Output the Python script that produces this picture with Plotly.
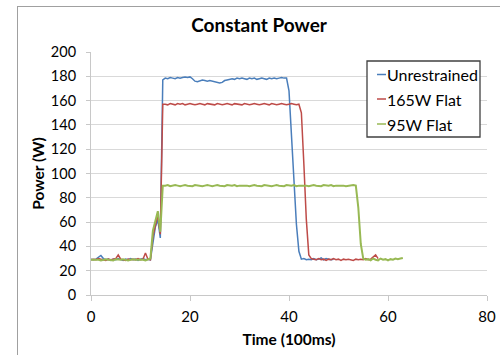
import plotly.graph_objects as go

# ---------------- data (time step 0.5 units of 100ms) ----------------
series_names = ["Unrestrained", "165W Flat", "95W Flat"]
step = 0.5

unrestrained = [
    29.5, 29, 29.5, 31, 32.5, 30, 29, 29.5, 28.5, 29.5,
    29, 30, 29, 28.5, 29.5, 29, 30, 29, 29.5, 28.5,
    29.5, 30, 29, 29.5, 29, 44, 56, 62, 47, 177,
    178.5, 178, 179, 178.5, 178, 179, 178.5, 179, 179.5, 179,
    179.5, 178, 176, 175.5, 176.5, 177, 176.5, 176, 176.5, 176,
    175.5, 175, 174.5, 175, 176.5, 177, 177.5, 178, 177.5, 178.5,
    178, 178.5, 178, 177.5, 178.5, 178, 178.5, 177.5, 178, 178.5,
    178, 177.5, 178.5, 178, 178.5, 178, 178.5, 179, 178.5, 178.5,
    168, 128, 90, 58, 36, 29.5, 30, 29, 29.5, 29,
    30, 29, 29.5, 30.5, 29, 30, 29.5, 29, 29.5,
]

flat_165 = [
    29, 29.5, 29, 30, 29.5, 29, 28.5, 29.5, 29, 29.5,
    30, 33, 29.5, 29, 28.5, 29.5, 29, 29.5, 29, 30,
    29, 29.5, 34.5, 29.5, 29, 48, 58, 66, 50, 157,
    157, 156.5, 157.5, 157, 156.5, 157.5, 157, 157.5, 156.5, 157,
    157.5, 157, 156.5, 157, 157.5, 157, 156.5, 157.5, 157, 157,
    156.5, 157.5, 157, 156.5, 157, 157.5, 157, 156.5, 157.5, 157,
    157, 156.5, 157.5, 157, 156.5, 157, 157.5, 157, 156.5, 157,
    157.5, 157, 156.5, 157.5, 157, 156.5, 157, 157.5, 157, 156.5,
    157, 157.5, 157, 156.5, 157,
    150, 108, 62, 33, 30, 29.5, 29, 30, 29, 29.5,
    28.5, 29.5, 29, 30, 29, 29.5, 28.5, 29.5, 29, 29.5,
    29, 28.5, 29.5, 29, 29.5, 29, 30, 29, 29.5, 31,
    33, 30,
]

flat_95 = [
    29, 29, 29.5, 29, 28.5, 29, 29.5, 29, 29, 28.5,
    29.5, 29, 29, 29.5, 29, 28.5, 29, 29.5, 29, 29,
    29.5, 29, 28.5, 29, 30, 53, 60, 69, 52, 90,
    90, 90.5, 89.5, 90, 90.5, 90, 89.5, 90, 90.5, 90,
    90, 89.5, 90.5, 90, 90, 89.5, 90, 90.5, 90, 89.5,
    90, 90.5, 90, 90, 89.5, 90.5, 90, 90, 90.5, 89.5,
    90, 90, 90.5, 90, 89.5, 90, 90.5, 90, 90, 89.5,
    90.5, 90, 90, 89.5, 90, 90.5, 90, 90, 89.5, 90.5,
    90, 90, 90.5, 89.5, 90, 90, 90.5, 90, 89.5, 90,
    90.5, 90, 90, 89.5, 90.5, 90, 90, 90.5, 89.5, 90,
    90, 90.5, 90, 89.5, 90, 90, 90.5, 90,
    72, 42, 30,
    29, 29.5, 28.5, 30, 29, 28.5, 30, 29, 29.5, 28.5,
    29.5, 29, 30, 29.5, 30, 30.5,
]

series_values = [unrestrained, flat_165, flat_95]
colors = ["#4A7EBB", "#BE4B48", "#98B954"]
widths = [1.5, 1.5, 2]

x_ticks = [0, 20, 40, 60, 80]
y_ticks = [0, 20, 40, 60, 80, 100, 120, 140, 160, 180, 200]

FONT = "Lato, Carlito, Calibri, 'Open Sans', sans-serif"

# ---------------- figure ----------------
fig = go.Figure()
for name, vals, col, w in zip(series_names, series_values, colors, widths):
    t = [i * step for i in range(len(vals))]
    fig.add_trace(go.Scatter(x=t, y=vals, mode="lines", name=name,
                             line=dict(color=col, width=w), showlegend=False))

L, R, T, B = 91, 13, 52, 60
W, H = 500, 355
pw, ph = W - L - R, H - T - B


def px_x(p):
    return (p - L) / pw


def px_y(p):
    return (H - B - p) / ph


shapes = []
# outer chart frame (top and left visible)
shapes.append(dict(type="line", xref="paper", yref="paper",
                   x0=px_x(17), x1=px_x(520), y0=px_y(6.5), y1=px_y(6.5),
                   line=dict(color="#a0a0a0", width=1)))
shapes.append(dict(type="line", xref="paper", yref="paper",
                   x0=px_x(17.5), x1=px_x(17.5), y0=px_y(6), y1=px_y(380),
                   line=dict(color="#a0a0a0", width=1)))
# legend box
shapes.append(dict(type="rect", xref="paper", yref="paper",
                   x0=px_x(367), x1=px_x(480), y0=px_y(61), y1=px_y(137),
                   line=dict(color="#404040", width=1.3), fillcolor="white"))
annotations = []
leg_rows = [74.5, 99, 124]
for name, col, yy in zip(series_names, colors, leg_rows):
    shapes.append(dict(type="line", xref="paper", yref="paper",
                       x0=px_x(377), x1=px_x(386), y0=px_y(yy), y1=px_y(yy),
                       line=dict(color=col, width=1.5)))
    annotations.append(dict(xref="paper", yref="paper", x=px_x(385), y=px_y(yy),
                            text=name, showarrow=False, xanchor="left", yanchor="middle",
                            font=dict(family=FONT, size=16, color="#000000")))

fig.update_layout(
    width=W, height=H,
    margin=dict(l=L, r=R, t=T, b=B, autoexpand=False),
    paper_bgcolor="white", plot_bgcolor="white",
    font=dict(family=FONT, size=15, color="#000000"),
    title=dict(text="<b>Constant Power</b>", xref="container", x=259 / W, xanchor="center",
               yref="container", y=1 - 25 / H, yanchor="middle", automargin=False,
               font=dict(family=FONT, size=19, color="#000000")),
    shapes=shapes,
    annotations=annotations,
    showlegend=False,
)

fig.update_xaxes(range=[0, 80], tickvals=x_ticks, showgrid=False, zeroline=False,
                 automargin=False,
                 showline=True, linecolor="#c8c8c8", linewidth=1,
                 ticks="outside", ticklen=5, tickcolor="#c8c8c8", ticklabelstandoff=3,
                 tickfont=dict(family=FONT, size=15, color="#000000"),
                 title=dict(text="<b>Time (100ms)</b>", standoff=10,
                            font=dict(family=FONT, size=15.5, color="#000000")))
fig.update_yaxes(range=[0, 200], tickvals=y_ticks, showgrid=True, gridcolor="#d9d9d9",
                 gridwidth=1, zeroline=False, automargin=False,
                 showline=True, linecolor="#c8c8c8", linewidth=1,
                 ticks="outside", ticklen=4, tickcolor="#c8c8c8", ticklabelstandoff=7,
                 tickfont=dict(family=FONT, size=14.5, color="#000000"),
                 title=dict(text="<b>Power (W)</b>", standoff=2,
                            font=dict(family=FONT, size=15.5, color="#000000")))

fig.write_html("out.html", config={"displayModeBar": False},
               post_script="document.body.style.margin='0';document.body.style.padding='0';")
